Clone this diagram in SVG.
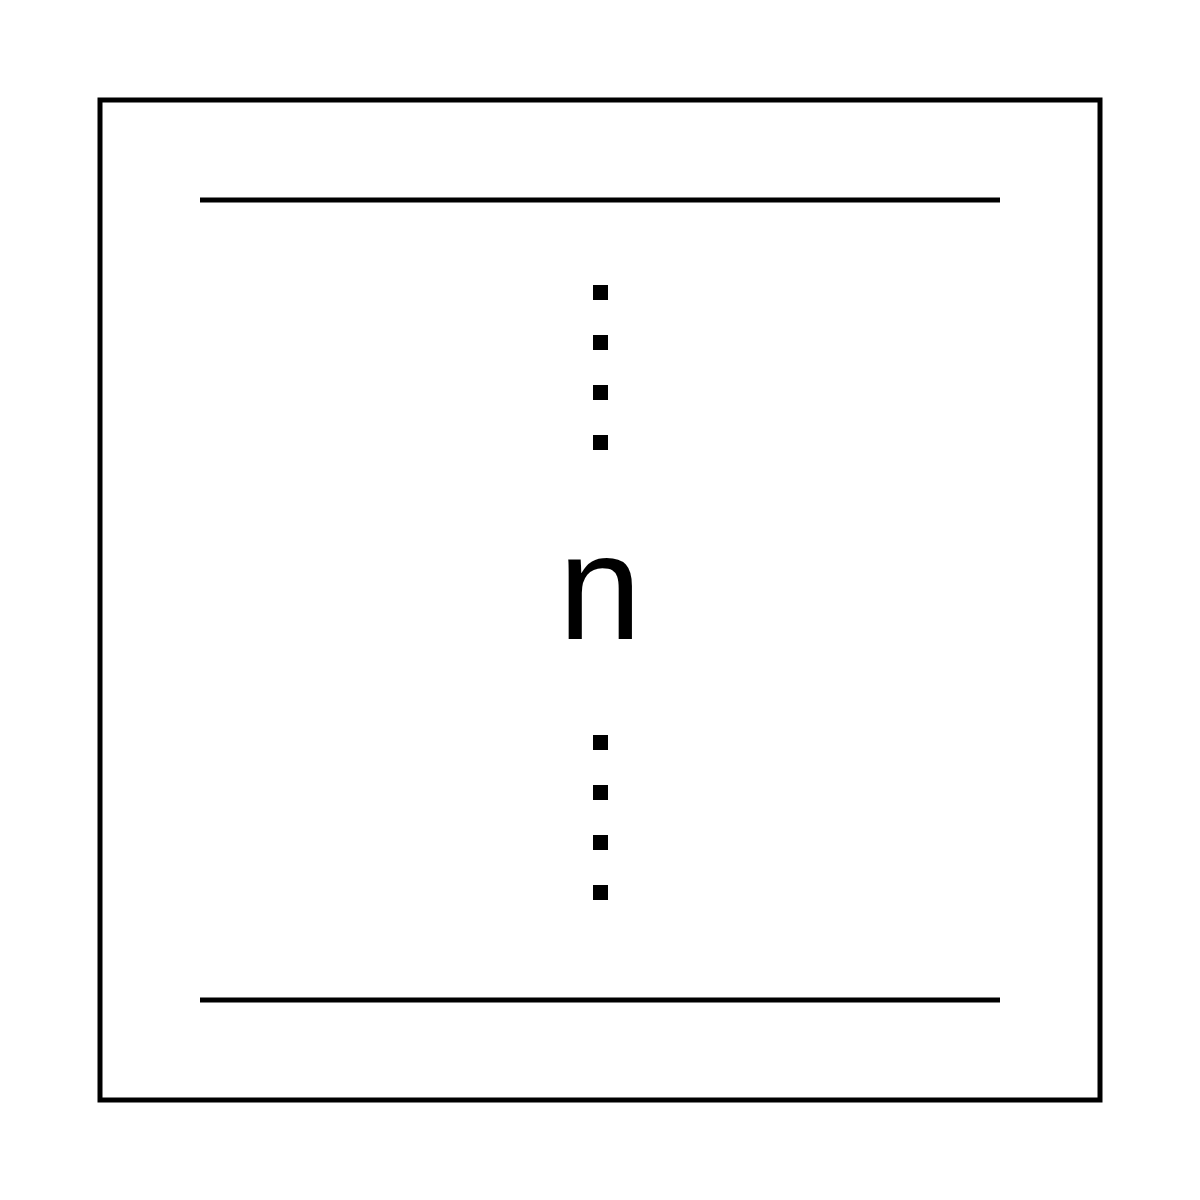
<svg xmlns="http://www.w3.org/2000/svg" width="1200" height="1200" viewBox="0 0 1200 1200">
<style>
.frame{fill:none;stroke:#000;stroke-width:5}
.rule{stroke:#000;stroke-width:5}
.dot{fill:#000}
.label{font-family:"Liberation Sans",Arial,sans-serif;font-size:150px;fill:#000;text-anchor:middle}
</style>
<rect width="1200" height="1200" fill="#fff"/>
<g id="frame"><rect class="frame" x="100" y="100" width="1000" height="1000"/></g>
<g id="rules">
<line class="rule" x1="200" y1="200" x2="1000" y2="200"/>
<line class="rule" x1="200" y1="1000" x2="1000" y2="1000"/>
</g>
<g id="dots-top">
<rect class="dot" x="593" y="285" width="15" height="15"/>
<rect class="dot" x="593" y="335" width="15" height="15"/>
<rect class="dot" x="593" y="385" width="15" height="15"/>
<rect class="dot" x="593" y="435" width="15" height="15"/>
</g>
<g id="label"><text class="label" x="600" y="639">n</text></g>
<g id="dots-bottom">
<rect class="dot" x="593" y="735" width="15" height="15"/>
<rect class="dot" x="593" y="785" width="15" height="15"/>
<rect class="dot" x="593" y="835" width="15" height="15"/>
<rect class="dot" x="593" y="885" width="15" height="15"/>
</g>
</svg>
